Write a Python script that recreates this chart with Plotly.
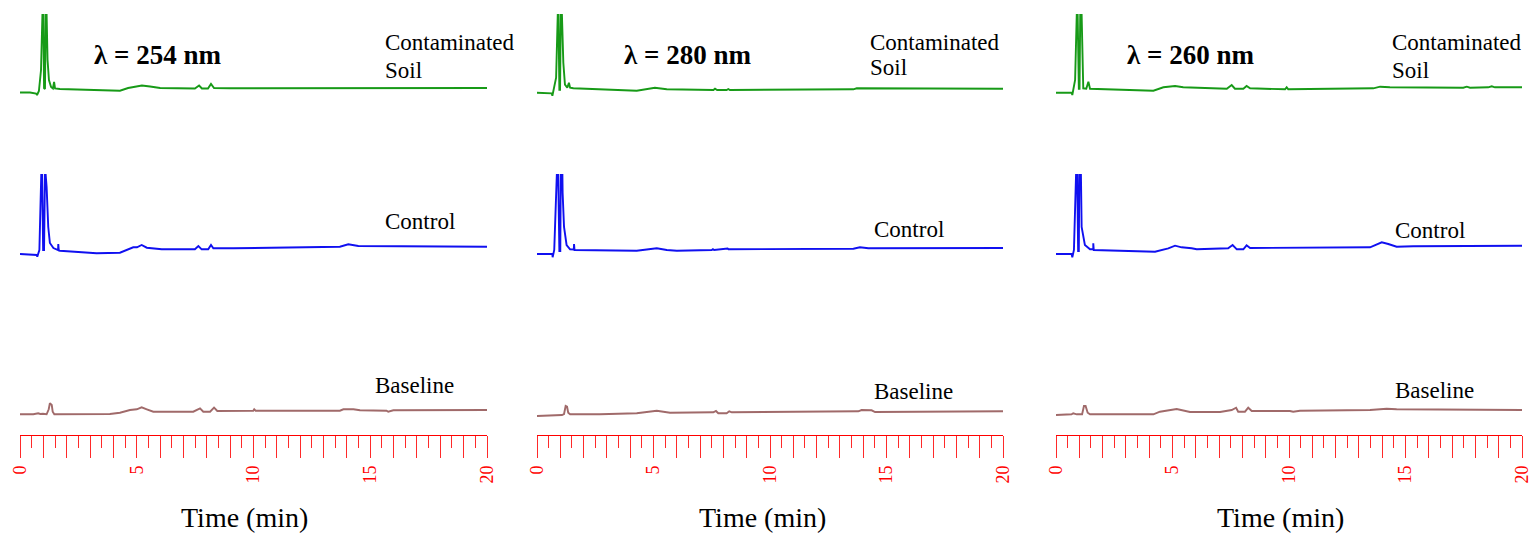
import plotly.graph_objects as go

W, H = 1534, 535

# ---------------- data (retention time in min, detector response in a.u.) ----------------
# Panel 1: lambda = 254 nm
P1_SOIL_T = [0, 0.43, 0.69, 0.73, 0.81, 0.90, 0.96, 1.00, 1.03, 1.07, 1.10, 1.14, 1.18, 1.24, 1.33,
             1.41, 1.46, 1.50, 1.71, 2.57, 4.28, 4.63, 4.93, 5.22, 5.57, 6.00, 7.49, 7.67, 7.79, 8.05,
             8.18, 8.31, 8.99, 20]
P1_SOIL_A = [0, 0, -1, -2.5, 1.5, 22.5, 77.5, 77.5, 4.5, 3.5, 77.5, 77.5, 32.5, 12.5, 5.5,
             4, 10.5, 4, 3.5, 3, 1.8, 4.5, 6, 7, 6, 4.5, 4, 7, 4, 4,
             8.5, 4.5, 4.2, 4.5]
P1_CTRL_T = [0, 0.72, 0.74, 0.76, 0.83, 0.91, 0.95, 0.99, 1.03, 1.07, 1.10, 1.14, 1.21, 1.28, 1.43,
             1.63, 1.64, 1.66, 1.71, 3.28, 4.28, 4.85, 5.01, 5.21, 5.43, 6.07, 7.49, 7.64, 7.78, 8.06,
             8.18, 8.28, 9.14, 13.70, 14.06, 14.49, 20]
P1_CTRL_A = [0, -1, -2.7, -1, 4, 79, 79, 4, 4, 79, 79, 67, 27, 11, 6,
             4, 10, 3.5, 3.3, 0.7, 1.3, 6.7, 6.7, 9, 6.3, 4.7, 4.7, 8, 4.7, 4.7,
             9, 5.7, 5.7, 7.3, 9.7, 8, 7.3]
P1_BASE_T = [0, 0.57, 0.78, 0.87, 0.98, 1.14, 1.23, 1.28, 1.36, 1.40, 1.47, 3.85, 4.28, 4.71, 5.00,
             5.21, 5.43, 5.71, 7.42, 7.71, 7.85, 8.14, 8.31, 8.45, 9.99, 10.03, 10.09, 13.70, 13.85,
             14.28, 14.56, 15.70, 15.77, 15.99, 20]
P1_BASE_A = [0, 0, 1, 0.3, 0.6, 0, 5, 11, 9.3, 2.6, 0, 0.3, 1.6, 4.3, 5,
             7, 5, 2.6, 2.6, 6, 2.6, 2.6, 6.6, 3.3, 3.6, 5, 3.6, 3.6, 5,
             5, 4, 3.6, 2.6, 4, 4.3]

# Panel 2: lambda = 280 nm
P2_SOIL_T = [0, 0.63, 0.66, 0.70, 0.82, 0.89, 0.92, 0.96, 0.99, 1.02, 1.07, 1.13, 1.20, 1.30, 1.37,
             1.42, 1.56, 4.28, 5.06, 5.57, 7.57, 7.64, 7.73, 8.14, 8.21, 8.28, 13.58, 13.72, 20]
P2_SOIL_A = [0, -0.6, -3, 1, 15, 77.7, 77.7, 3, 3, 77.7, 77.7, 30, 8, 5, 10,
             5, 4.4, 2, 5, 3.4, 2.7, 4, 2.7, 2.7, 3.7, 2.7, 3.4, 4.4, 4]
P2_CTRL_T = [0, 0.66, 0.67, 0.70, 0.74, 0.85, 0.91, 0.96, 1.00, 1.02, 1.09, 1.10, 1.16, 1.27, 1.42,
             1.58, 1.59, 1.61, 4.28, 4.92, 5.14, 5.57, 6.00, 7.50, 7.55, 7.60, 8.14, 8.18, 8.22,
             13.58, 13.86, 14.22, 20]
P2_CTRL_A = [0, 0, -3.3, 0, 4, 79, 79, 3, 3, 79, 79, 61, 27, 9, 4.7,
             4.5, 10, 4, 3.3, 5.3, 5.7, 4, 3.3, 4, 4.8, 4, 4.7, 5.5, 4.7,
             5.3, 6.7, 5.7, 6]
P2_BASE_T = [0, 0.70, 0.91, 1.07, 1.16, 1.23, 1.29, 1.34, 1.42, 2.70, 4.28, 5.14, 5.71, 7.57, 7.68,
             7.78, 8.14, 8.25, 8.36, 13.79, 13.93, 14.36, 14.51, 20]
P2_BASE_A = [0, 0.3, 1, 1, 2, 10, 9.3, 3.3, 1.7, 1.7, 2.7, 5.3, 3.3, 3.7, 5,
             2.7, 2.7, 4.7, 3.7, 4.7, 6, 5.7, 4, 4.7]

# Panel 3: lambda = 260 nm
P3_SOIL_T = [0, 0.67, 0.70, 0.74, 0.82, 0.89, 0.93, 0.98, 1.01, 1.04, 1.10, 1.17, 1.30, 1.39, 1.46,
             4.18, 4.61, 5.11, 5.46, 7.33, 7.54, 7.68, 8.04, 8.18, 8.33, 9.83, 9.90, 9.97, 13.62,
             13.91, 14.33, 17.48, 17.63, 17.77, 18.55, 18.70, 18.84, 20]
P3_SOIL_A = [0, 0, -2.3, 2, 12.7, 77.7, 77.7, 4, 4, 77.7, 77.7, 4.4, 4, 11, 4,
             2, 5.4, 6.7, 5.4, 4, 7.7, 4, 4, 6.7, 4.4, 3.4, 5.4, 3.4, 4.4,
             6, 5.4, 5, 6, 5, 5.4, 6.4, 5.4, 5.4]
P3_CTRL_T = [0, 0.67, 0.70, 0.77, 0.86, 0.91, 0.95, 0.98, 1.00, 1.07, 1.10, 1.24, 1.46, 1.60, 1.60,
             1.62, 4.25, 4.82, 5.11, 5.39, 5.82, 6.04, 7.39, 7.58, 7.76, 8.04, 8.18, 8.33, 13.48,
             13.98, 14.26, 14.62, 15.33, 16.48, 20]
P3_CTRL_A = [0, 0, -3.3, 4, 79, 79, 3, 3, 79, 79, 27, 9, 4.7, 4.7, 10.7,
             4, 2.3, 5.7, 8.3, 6.7, 5.7, 4.7, 5.7, 9, 4.7, 4.7, 8.7, 6, 6.7,
             11.7, 10, 7.3, 7.7, 8, 8.3]
P3_BASE_T = [0, 0.67, 0.74, 0.89, 1.12, 1.20, 1.27, 1.36, 1.46, 4.18, 4.46, 4.75, 5.18, 5.75, 7.04,
             7.54, 7.73, 7.82, 8.11, 8.25, 8.40, 10.04, 10.18, 10.47, 13.48, 14.19, 14.62, 20]
P3_BASE_A = [0, 0.7, 1.7, 0.7, 0.7, 9, 9, 2.3, 0.7, 0.7, 3.3, 4.3, 6, 3, 3,
             5, 7.3, 3.3, 3.3, 7.3, 4, 4, 3.3, 4.3, 5, 6.3, 5.7, 5]

WAVELENGTHS = ["λ = 254 nm", "λ = 280 nm", "λ = 260 nm"]
SAMPLES = ["Contaminated Soil", "Control", "Baseline"]
TICK_VALUES = list(range(0, 21))
TICK_LABELS = [str(v) if v % 5 == 0 else "" for v in TICK_VALUES]
MINOR_TICKS = [v + 0.5 for v in range(0, 20)]
AXIS_TITLE = "Time (min)"

PANELS = [
    [(P1_SOIL_T, P1_SOIL_A), (P1_CTRL_T, P1_CTRL_A), (P1_BASE_T, P1_BASE_A)],
    [(P2_SOIL_T, P2_SOIL_A), (P2_CTRL_T, P2_CTRL_A), (P2_BASE_T, P2_BASE_A)],
    [(P3_SOIL_T, P3_SOIL_A), (P3_CTRL_T, P3_CTRL_A), (P3_BASE_T, P3_BASE_A)],
]

# ---------------- styling / layout ----------------
COLORS = ["#179a17", "#1010f0", "#a06a6a"]
# vertical stacking offsets of each chromatogram (a.u. above the time axis)
OFFSETS = [[342.5, 181, 20.7], [342.3, 181, 19.0], [342.3, 181, 20.0]]
X_DOMAINS_PX = [(20, 487), (537, 1003), (1056, 1522)]
AXIS_Y_PX = 435
SERIF = "Liberation Serif, Times New Roman, serif"


def px(x):
    return x / W


def py(y):
    return 1 - y / H


fig = go.Figure()
for i, panel in enumerate(PANELS):
    sfx = "" if i == 0 else str(i + 1)
    for j, (t, a) in enumerate(panel):
        fig.add_trace(go.Scatter(
            x=t, y=[v + OFFSETS[i][j] for v in a],
            xaxis="x" + sfx, yaxis="y" + sfx, mode="lines",
            line=dict(color=COLORS[j], width=1.9),
            showlegend=False, hoverinfo="skip"))

layout = dict(
    template="none",
    width=W, height=H, margin=dict(l=0, r=0, t=0, b=0, pad=0, autoexpand=False),
    paper_bgcolor="white", plot_bgcolor="white", showlegend=False,
)
for i in range(3):
    sfx = "" if i == 0 else str(i + 1)
    x0, x1 = X_DOMAINS_PX[i]
    layout["xaxis" + sfx] = dict(
        domain=[px(x0), px(x1)], range=[0, 20], anchor="y" + sfx, automargin=False,
        showline=True, linecolor="#ff0000", linewidth=1.3,
        showgrid=False, zeroline=False,
        ticks="outside", ticklen=22, tickwidth=1, tickcolor="#ff2a2a",
        tickmode="array", tickvals=TICK_VALUES, ticktext=TICK_LABELS,
        tickangle=-90, tickfont=dict(family=SERIF, size=18, color="#ff0000"),
        ticklabeloverflow="allow",
        minor=dict(tickmode="array", tickvals=MINOR_TICKS, ticks="outside",
                   ticklen=12, tickwidth=1, tickcolor="#ff2a2a", showgrid=False),
        fixedrange=True,
    )
    layout["yaxis" + sfx] = dict(
        domain=[py(AXIS_Y_PX), 1], range=[0, AXIS_Y_PX],
        anchor="x" + sfx, visible=False, fixedrange=True, automargin=False,
    )

annotations = []
TEXT_FONT = dict(family=SERIF, size=23, color="black")
lam_pos = [(157, 55), (687, 55), (1190, 55)]
soil_pos = [(383, 43, 70), (868, 42, 68), (1390, 43, 70)]
ctrl_pos = [(383, 221), (872, 229), (1393, 230)]
base_pos = [(373, 385), (872, 391), (1393, 390)]
title_pos = [(245, 517), (762, 517), (1280, 517)]
soil_words = SAMPLES[0].split(" ")
for i in range(3):
    annotations.append(dict(text="<b>" + WAVELENGTHS[i] + "</b>", x=px(lam_pos[i][0]), y=py(lam_pos[i][1]),
                            xref="paper", yref="paper", xanchor="center", yanchor="middle",
                            showarrow=False, font=dict(family=SERIF, size=27, color="black")))
    annotations.append(dict(text=soil_words[0], x=px(soil_pos[i][0]), y=py(soil_pos[i][1]),
                            xref="paper", yref="paper", xanchor="left", yanchor="middle",
                            showarrow=False, font=TEXT_FONT))
    annotations.append(dict(text=soil_words[1], x=px(soil_pos[i][0]), y=py(soil_pos[i][2]),
                            xref="paper", yref="paper", xanchor="left", yanchor="middle",
                            showarrow=False, font=TEXT_FONT))
    annotations.append(dict(text=SAMPLES[1], x=px(ctrl_pos[i][0]), y=py(ctrl_pos[i][1]),
                            xref="paper", yref="paper", xanchor="left", yanchor="middle",
                            showarrow=False, font=TEXT_FONT))
    annotations.append(dict(text=SAMPLES[2], x=px(base_pos[i][0]), y=py(base_pos[i][1]),
                            xref="paper", yref="paper", xanchor="left", yanchor="middle",
                            showarrow=False, font=TEXT_FONT))
    annotations.append(dict(text=AXIS_TITLE, x=px(title_pos[i][0]), y=py(title_pos[i][1]),
                            xref="paper", yref="paper", xanchor="center", yanchor="middle",
                            showarrow=False, font=dict(family=SERIF, size=28, color="black")))
layout["annotations"] = annotations

fig.update_layout(**layout)
# remove the default page margin so the 1534x535 figure fills the window exactly
fig.write_html("out.html",
               config={"displayModeBar": False, "staticPlot": True},
               post_script="document.body.style.margin='0';document.body.style.overflow='hidden';")
